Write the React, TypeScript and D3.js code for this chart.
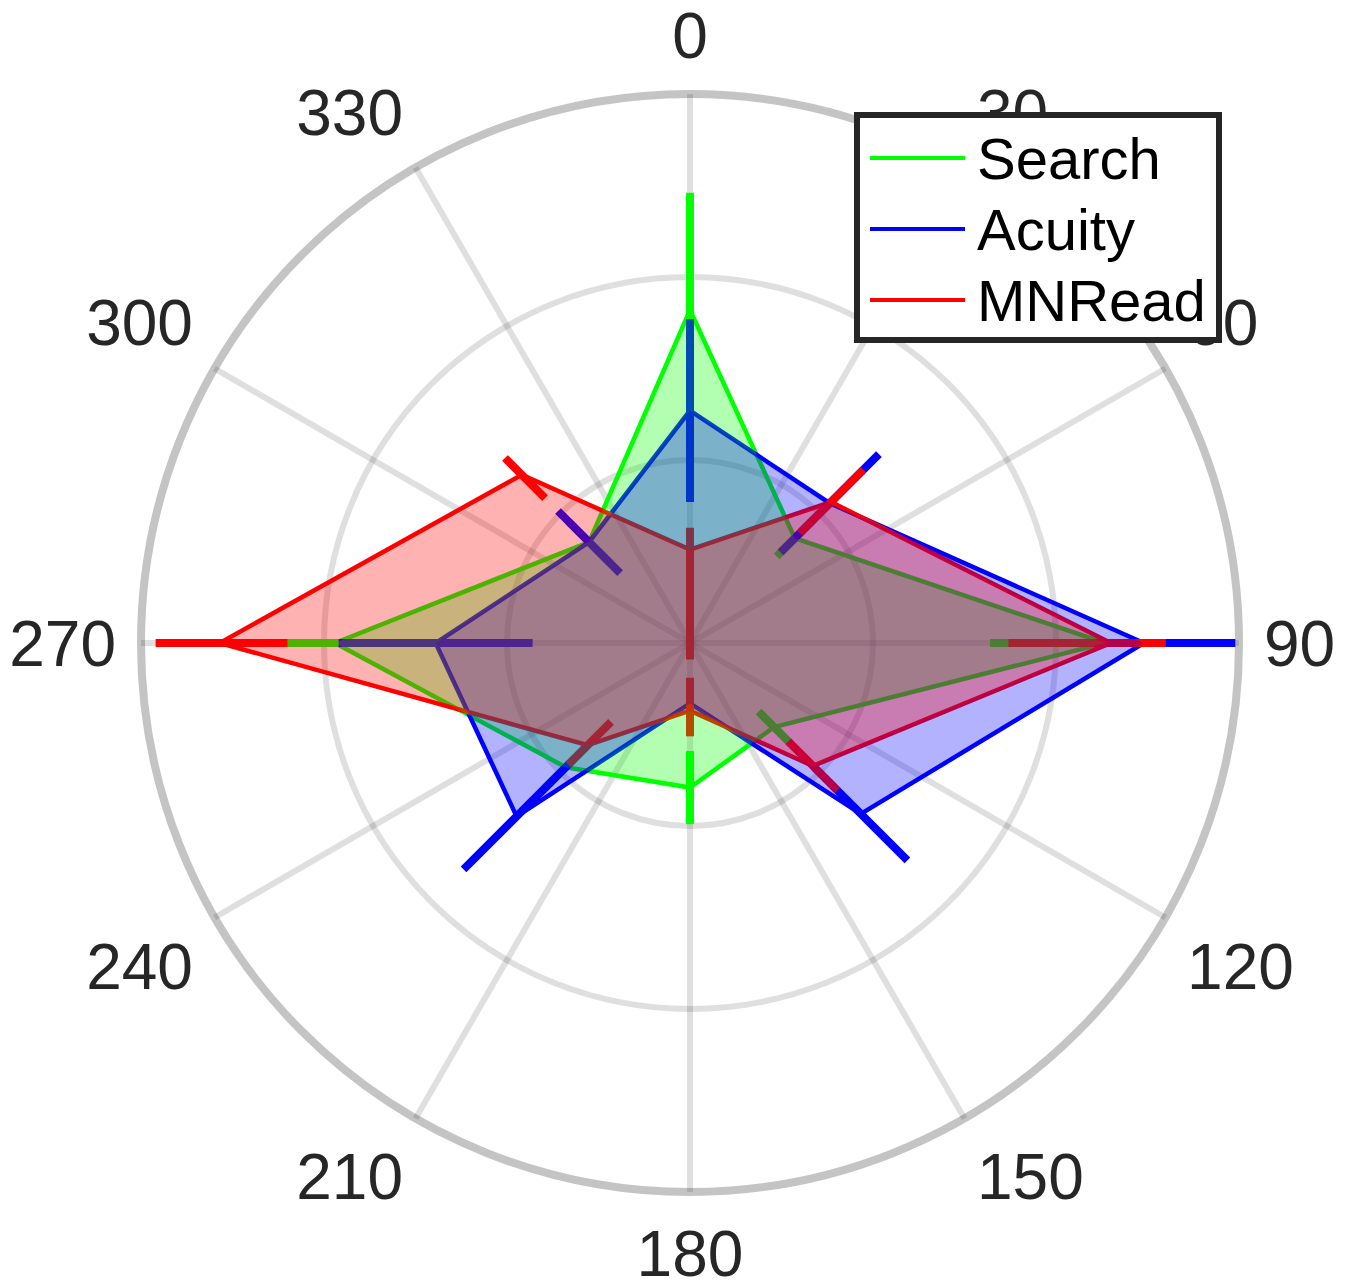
import * as d3 from 'd3';

// direction of each measurement (degrees, clockwise from top)
const ANGLES = [0, 45, 90, 135, 180, 225, 270, 315];
const THETA_TICKS = d3.range(0, 360, 30);
const R_TICKS = [1, 2, 3];

const SERIES_NAMES = ['Search', 'Acuity', 'MNRead'];
const SERIES_COLORS = ['#00ff00', '#0000ff', '#ff0000'];

const searchMean = [1.82, 0.81, 2.27, 0.65, 0.79, 0.96, 1.94, 0.78];
const searchLow = [1.18, 0.67, 1.64, 0.53, 0.59, 0.8, 1.61, 0.62];
const searchHigh = [2.46, 0.95, 2.9, 0.77, 0.99, 1.12, 2.27, 0.94];

const acuityMean = [1.27, 1.08, 2.48, 1.32, 0.33, 1.34, 1.39, 0.78];
const acuityLow = [0.77, 0.7, 1.98, 0.96, 0.22, 0.93, 0.86, 0.54];
const acuityHigh = [1.77, 1.46, 2.98, 1.68, 0.44, 1.75, 1.92, 1.02];

const mnreadMean = [0.51, 1.09, 2.3, 0.95, 0.37, 0.79, 2.57, 1.3];
const mnreadLow = [-0.09, 0.85, 1.74, 0.76, 0.19, 0.61, 2.2, 1.12];
const mnreadHigh = [0.63, 1.34, 2.6, 1.14, 0.51, 0.94, 2.92, 1.43];

const MEANS = [searchMean, acuityMean, mnreadMean];
const LOWS = [searchLow, acuityLow, mnreadLow];
const HIGHS = [searchHigh, acuityHigh, mnreadHigh];

const FONT = '"Liberation Sans", Arial, Helvetica, sans-serif';

export default function App() {
  const W = 1353, H = 1286;
  const cx = 690, cy = 643;
  const r = d3.scaleLinear().domain([0, 3]).range([0, 549]);
  const rad = (deg: number) => (deg * Math.PI) / 180;

  const poly = d3.lineRadial<number>()
    .angle((_, i) => rad(ANGLES[i]))
    .radius(d => r(d))
    .curve(d3.curveLinearClosed);

  const bar = (angle: number, lo: number, hi: number) =>
    d3.lineRadial<number>().angle(rad(angle)).radius(d => r(d))([lo, hi]) || '';

  const gridColor = '#262626';
  const labelR = 574;

  return (
    <svg width={W} height={H} style={{ position: 'absolute', left: 0, top: 0, background: '#fff' }}>
      <g transform={`translate(${cx},${cy})`}>
        {/* grid */}
        {THETA_TICKS.map(t => {
          const [x, y] = d3.pointRadial(rad(t), r(3));
          return <line key={'s' + t} x1={0} y1={0} x2={x} y2={y}
            stroke={gridColor} strokeOpacity={0.15} strokeWidth={6} />;
        })}
        {R_TICKS.map(v => (
          <circle key={'c' + v} r={r(v)} fill="none" stroke={gridColor}
            strokeOpacity={v === 3 ? 0.27 : 0.15} strokeWidth={v === 3 ? 8 : 6} />
        ))}

        {/* edges and error bars */}
        {MEANS.map((m, si) => (
          <g key={'l' + si}>
            <path d={poly(m) || ''} fill="none" stroke={SERIES_COLORS[si]} strokeWidth={4.5} />
            {ANGLES.map((a, i) => (
              <path key={a} d={bar(a, LOWS[si][i], HIGHS[si][i])} fill="none"
                stroke={SERIES_COLORS[si]} strokeWidth={8} />
            ))}
          </g>
        ))}

        {/* translucent fills on top */}
        {MEANS.map((m, si) => (
          <path key={'f' + si} d={poly(m) || ''} fill={SERIES_COLORS[si]} fillOpacity={0.3} stroke="none" />
        ))}

        {/* theta labels, aligned away from the circle */}
        {THETA_TICKS.map(t => {
          const s = Math.sin(rad(t)), c = Math.cos(rad(t));
          const [x, y] = d3.pointRadial(rad(t), labelR);
          const anchor = s > 0.01 ? 'start' : s < -0.01 ? 'end' : 'middle';
          const yb = c > 0.01 ? y - 11 : c < -0.01 ? y + 59 : y + 23;
          return (
            <text key={'t' + t} x={x} y={yb} textAnchor={anchor}
              fontFamily={FONT} fontSize={64} fill="#262626">{t}</text>
          );
        })}
      </g>

      {/* legend */}
      <g>
        <rect x={857} y={115} width={362} height={225} fill="#fff" stroke="#262626" strokeWidth={6} />
        {SERIES_NAMES.map((name, i) => {
          const y = 158 + i * 71;
          return (
            <g key={name}>
              <line x1={870} x2={965} y1={y} y2={y} stroke={SERIES_COLORS[i]} strokeWidth={4} />
              <text x={977} y={y} dy="0.36em" fontFamily={FONT} fontSize={58} fill="#000">{name}</text>
            </g>
          );
        })}
      </g>
    </svg>
  );
}
